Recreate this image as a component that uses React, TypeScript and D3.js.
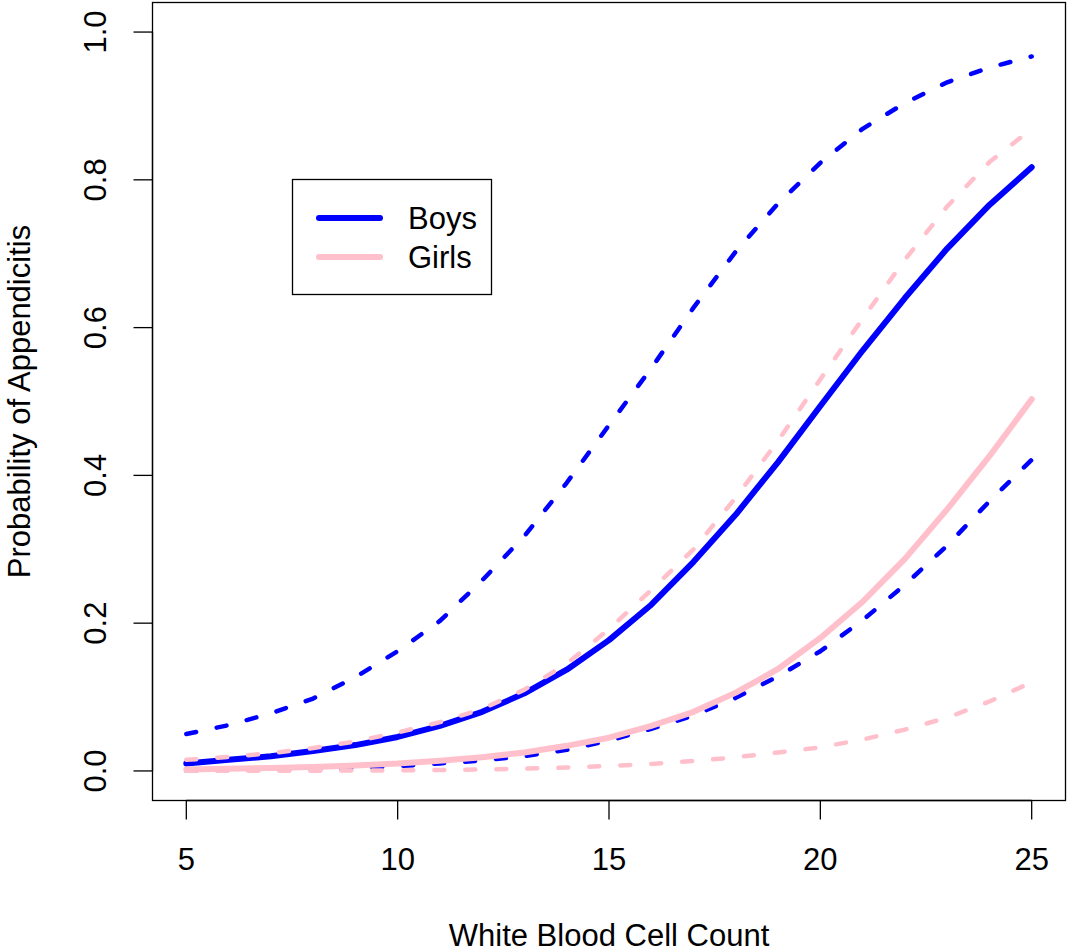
import React from "react";
import * as d3 from "d3";

// White blood cell counts at which the fitted model was evaluated
const wbc = [5, 6, 7, 8, 9, 10, 11, 12, 13, 14, 15, 16, 17, 18, 19, 20, 21, 22, 23, 24, 25];

// Fitted probabilities and 95% bounds, boys
const boysFit = [0.010, 0.015, 0.020, 0.027, 0.035, 0.046, 0.061, 0.080, 0.105, 0.137, 0.177, 0.225, 0.283, 0.347, 0.418, 0.494, 0.569, 0.640, 0.707, 0.766, 0.817];
const boysUpper = [0.050, 0.062, 0.078, 0.098, 0.127, 0.162, 0.203, 0.258, 0.318, 0.390, 0.468, 0.545, 0.627, 0.703, 0.768, 0.823, 0.869, 0.904, 0.932, 0.952, 0.967];
const boysLower = [0.0007, 0.0010, 0.0017, 0.0026, 0.0037, 0.0065, 0.0102, 0.0142, 0.0200, 0.0285, 0.041, 0.057, 0.075, 0.099, 0.128, 0.162, 0.204, 0.252, 0.305, 0.365, 0.421];

// Fitted probabilities and 95% bounds, girls
const girlsFit = [0.002, 0.003, 0.004, 0.0055, 0.0075, 0.010, 0.0138, 0.0185, 0.025, 0.034, 0.045, 0.061, 0.080, 0.106, 0.138, 0.180, 0.229, 0.287, 0.354, 0.426, 0.503];
const girlsUpper = [0.015, 0.019, 0.024, 0.031, 0.040, 0.052, 0.066, 0.084, 0.110, 0.145, 0.192, 0.245, 0.300, 0.370, 0.447, 0.530, 0.612, 0.692, 0.764, 0.824, 0.869];
const girlsLower = [0.0001, 0.0001, 0.0002, 0.0003, 0.0005, 0.0008, 0.0013, 0.0021, 0.0031, 0.0047, 0.0068, 0.0095, 0.0135, 0.0185, 0.025, 0.032, 0.0425, 0.056, 0.072, 0.094, 0.120];

const xTicks = [5, 10, 15, 20, 25];
const yTicks = [0, 0.2, 0.4, 0.6, 0.8, 1.0];
const legendLabels = ["Boys", "Girls"];

const BLUE = "#0000ff";
const PINK = "#ffc0cb";
const FONT = "'Liberation Sans', Arial, Helvetica, sans-serif";

export default function App() {
  const W = 1068;
  const H = 952;
  const left = 152.5;
  const right = 1065.5;
  const top = 2.5;
  const bottom = 800.5;

  const x = d3.scaleLinear().domain([4.2, 25.8]).range([left, right]);
  const y = d3.scaleLinear().domain([-0.04, 1.04]).range([bottom, top]);

  const line = d3
    .line<number>()
    .x((_, i) => x(wbc[i]))
    .y((d) => y(d));

  const series = [
    { values: boysFit, color: BLUE, dashed: false },
    { values: boysUpper, color: BLUE, dashed: true },
    { values: boysLower, color: BLUE, dashed: true },
    { values: girlsFit, color: PINK, dashed: false },
    { values: girlsUpper, color: PINK, dashed: true },
    { values: girlsLower, color: PINK, dashed: true },
  ];

  const tickLen = 19;
  const fs = 31;

  return (
    <svg
      width={W}
      height={H}
      viewBox={`0 0 ${W} ${H}`}
      style={{ position: "absolute", left: 0, top: 0, background: "#fff" }}
      fontFamily={FONT}
    >
      <rect x={0} y={0} width={W} height={H} fill="#fff" />

      {series.map((s, i) => (
        <path
          key={i}
          d={line(s.values) || ""}
          fill="none"
          stroke={s.color}
          strokeWidth={s.dashed ? 4.5 : 6}
          strokeDasharray={s.dashed ? "10 21" : undefined}
          strokeLinecap="round"
          strokeLinejoin="round"
        />
      ))}

      {/* plot frame */}
      <rect x={left} y={top} width={right - left} height={bottom - top} fill="none" stroke="#000" strokeWidth={1.3} />

      {/* x axis */}
      <line x1={x(xTicks[0])} x2={x(xTicks[xTicks.length - 1])} y1={bottom} y2={bottom} stroke="#000" strokeWidth={1.3} />
      {xTicks.map((t) => (
        <g key={t}>
          <line x1={x(t)} x2={x(t)} y1={bottom} y2={bottom + tickLen} stroke="#000" strokeWidth={1.3} />
          <text x={x(t)} y={870} textAnchor="middle" fontSize={fs} fill="#000">
            {t}
          </text>
        </g>
      ))}

      {/* y axis */}
      <line x1={left} x2={left} y1={y(yTicks[0])} y2={y(yTicks[yTicks.length - 1])} stroke="#000" strokeWidth={1.3} />
      {yTicks.map((t) => (
        <g key={t}>
          <line x1={left - tickLen} x2={left} y1={y(t)} y2={y(t)} stroke="#000" strokeWidth={1.3} />
          <text
            transform={`translate(106,${y(t)}) rotate(-90)`}
            textAnchor="middle"
            fontSize={fs}
            fill="#000"
          >
            {t.toFixed(1)}
          </text>
        </g>
      ))}

      {/* axis titles */}
      <text x={(left + right) / 2} y={946} textAnchor="middle" fontSize={fs} fill="#000">
        White Blood Cell Count
      </text>
      <text
        transform={`translate(30,${(top + bottom) / 2}) rotate(-90)`}
        textAnchor="middle"
        fontSize={fs}
        fill="#000"
      >
        Probability of Appendicitis
      </text>

      {/* legend */}
      <rect x={292.5} y={179.5} width={199} height={115} fill="#fff" stroke="#000" strokeWidth={1.3} />
      {legendLabels.map((lab, i) => {
        const ly = 218 + i * 39;
        return (
          <g key={lab}>
            <line x1={319} x2={380} y1={ly} y2={ly} stroke={i === 0 ? BLUE : PINK} strokeWidth={6} strokeLinecap="round" />
            <text x={408} y={ly + 11} fontSize={fs} fill="#000">
              {lab}
            </text>
          </g>
        );
      })}
    </svg>
  );
}
